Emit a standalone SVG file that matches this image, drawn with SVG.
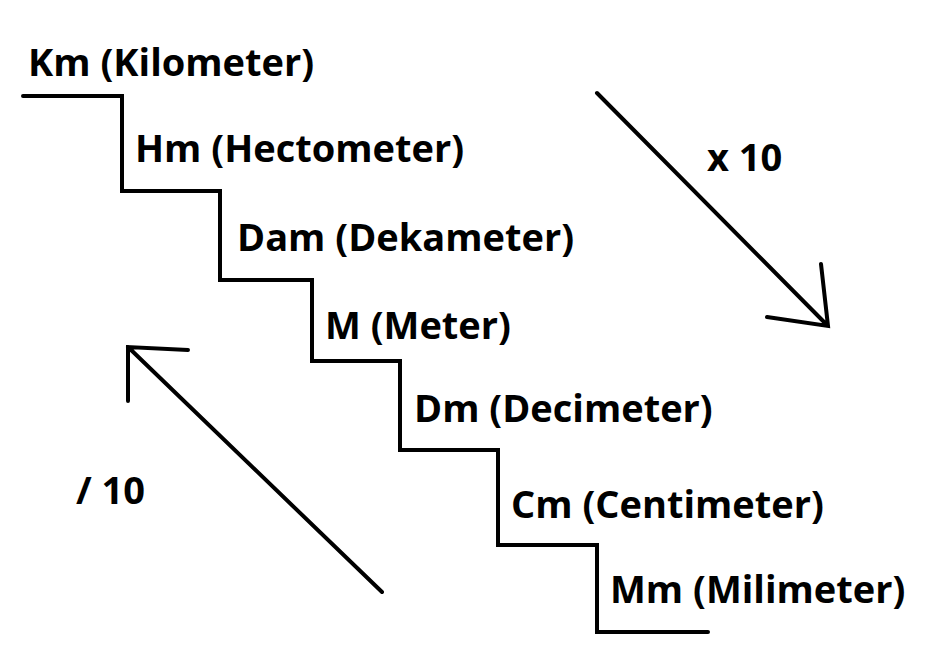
<svg xmlns="http://www.w3.org/2000/svg" width="934" height="670" viewBox="0 0 934 670">
<style>
.lbl{font-family:"Open Sans","Liberation Sans",sans-serif;font-weight:bold;font-size:38px;fill:#000}
.ln{fill:none;stroke:#000;stroke-width:4;stroke-linecap:round;stroke-linejoin:miter}
</style>
<rect width="934" height="670" fill="#fff"/>
<g id="connectors">
<path id="stairs" class="ln" d="M23,96 H122 V191 H220 V280 H312 V361 H400 V450 H498 V545 H597 V632 H708"/>
<g id="arrow-x10">
<path class="ln" d="M597,93 L828,326 M821,264 L828,326 L767,317"/>
</g>
<g id="arrow-div10">
<path class="ln" d="M382,592 L128,347 M188,350 L128,347 L128,401"/>
</g>
</g>
<g id="km"><text class="lbl" x="28" y="76">Km (Kilometer)</text></g>
<g id="hm"><text class="lbl" x="135" y="162">Hm (Hectometer)</text></g>
<g id="dam"><text class="lbl" x="237" y="251">Dam (Dekameter)</text></g>
<g id="m"><text class="lbl" x="325" y="339">M (Meter)</text></g>
<g id="dm"><text class="lbl" x="414" y="422">Dm (Decimeter)</text></g>
<g id="cm"><text class="lbl" x="511" y="518">Cm (Centimeter)</text></g>
<g id="mm"><text class="lbl" x="610" y="603">Mm (Milimeter)</text></g>
<g id="x10"><text class="lbl" x="707" y="171">x 10</text></g>
<g id="div10"><text class="lbl" x="76" y="504">/ 10</text></g>
</svg>
